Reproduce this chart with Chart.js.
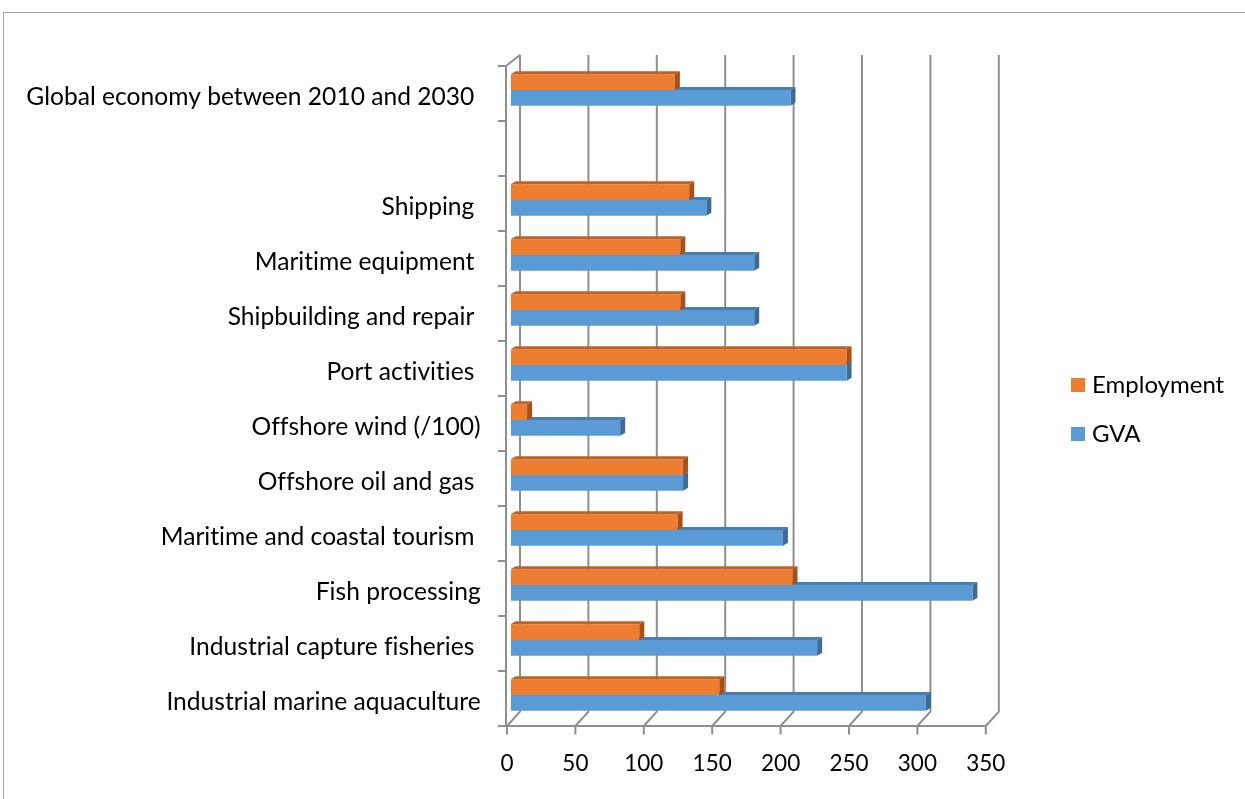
<!DOCTYPE html>
<html><head><meta charset="utf-8">
<script src="https://cdn.jsdelivr.net/npm/chart.js@4.4.1/dist/chart.umd.min.js"></script>
<style>
html,body{margin:0;padding:0;background:#fff;overflow:hidden;width:1245px;height:799px;}
#frame{position:absolute;left:3px;top:12px;width:1400px;height:1000px;border:1px solid #a6a6a6;box-sizing:border-box;}
#wrap{position:absolute;left:0;top:0;width:1245px;height:799px;}
.lg{position:absolute;font-family:Lato,sans-serif;font-size:24px;line-height:24px;color:#000;white-space:nowrap;font-variant-ligatures:none;}
.sw{position:absolute;width:14px;height:14px;}
</style></head>
<body>
<div id="frame"></div>
<div id="wrap"><canvas id="c" width="1245" height="799" style="width:1245px;height:799px"></canvas></div>
<div class="sw" style="left:1071px;top:378px;background:#ED7D31"></div>
<div class="lg" style="left:1092px;top:372px">Employment</div>
<div class="sw" style="left:1071px;top:427px;background:#5B9BD5"></div>
<div class="lg" style="left:1092px;top:421px">GVA</div>
<script>
const categories = ["Global economy between 2010 and 2030 ", "", "Shipping ", "Maritime equipment ", "Shipbuilding and repair ", "Port activities ", "Offshore wind (/100)", "Offshore oil and gas ", "Maritime and coastal tourism ", "Fish processing", "Industrial capture fisheries ", "Industrial marine aquaculture"];
const employment = [120, null, 130.5, 124, 124, 245.5, 12, 126, 122, 206, 94, 152.5];
const gva = [204.5, null, 143, 178, 178, 245.5, 80, 126, 199, 337.5, 224, 303.5];
const xTicks = [0, 50, 100, 150, 200, 250, 300, 350];
const seriesNames = ["Employment", "GVA"];

const GRID = '#8f8f8f';
function faces(ctx, el, topCol, sideCol){
  const p = el.getProps(['x','y','base','height'], true);
  const x0 = Math.min(p.x, p.base), x1 = Math.max(p.x, p.base);
  const t = p.y - p.height/2, b = p.y + p.height/2, dx = 5, dy = 3;
  ctx.fillStyle = topCol;
  ctx.beginPath(); ctx.moveTo(x0, t); ctx.lineTo(x0+dx, t-dy); ctx.lineTo(x1+dx, t-dy); ctx.lineTo(x1, t); ctx.closePath(); ctx.fill();
  ctx.fillStyle = sideCol;
  ctx.beginPath(); ctx.moveTo(x1, t); ctx.lineTo(x1+dx, t-dy); ctx.lineTo(x1+dx, b-dy); ctx.lineTo(x1, b); ctx.closePath(); ctx.fill();
}
const threeD = {
  id: 'threeD',
  beforeDraw(chart){
    try { chart.ctx.letterSpacing = '0.01px'; } catch (e) {}
  },
  beforeDatasetsDraw(chart){
    const ctx = chart.ctx, xs = chart.scales.x, a = chart.chartArea;
    const bx = v => xs.getPixelForValue(v) + 9.3;
    const fx = v => xs.getPixelForValue(v) - 3.7;
    const backTop = a.top - 7.5, backBot = a.bottom - 10.8, frontTop = a.top + 3.5, frontBot = a.bottom + 3.5;
    ctx.save();
    ctx.strokeStyle = GRID; ctx.lineWidth = 2; ctx.lineJoin = 'miter';
    xTicks.forEach(v => {
      ctx.beginPath();
      ctx.moveTo(bx(v), backTop); ctx.lineTo(bx(v), backBot); ctx.lineTo(fx(v), frontBot); ctx.lineTo(fx(v), frontBot + 8.5);
      ctx.stroke();
    });
    ctx.beginPath(); ctx.moveTo(fx(0) - 8, frontBot); ctx.lineTo(fx(xTicks[xTicks.length-1]), frontBot); ctx.stroke();
    ctx.beginPath(); ctx.moveTo(bx(0), backTop); ctx.lineTo(fx(0) - 1, frontTop); ctx.lineTo(fx(0) - 1, frontBot); ctx.stroke();
    const n = categories.length, step = (a.bottom - a.top) / n;
    for (let k = 0; k <= n; k++) {
      const y = frontTop + k * step;
      ctx.beginPath(); ctx.moveTo(fx(0) - 9, y); ctx.lineTo(fx(0) - 1, y); ctx.stroke();
    }
    chart.getDatasetMeta(1).data.forEach((el, i) => { if (gva[i] != null) faces(ctx, el, '#4A7EAE', '#3E6A93'); });
    ctx.restore();
  },
  afterDatasetsDraw(chart){
    const ctx = chart.ctx;
    ctx.save();
    chart.getDatasetMeta(0).data.forEach((el, i) => { if (employment[i] != null) faces(ctx, el, '#BF6228', '#A4511C'); });
    ctx.restore();
  }
};

new Chart(document.getElementById('c'), {
  type: 'bar',
  data: {
    labels: categories,
    datasets: [
      { label: seriesNames[0], data: employment, backgroundColor: '#ED7D31', borderWidth: 0 },
      { label: seriesNames[1], data: gva, backgroundColor: '#5B9BD5', borderWidth: 0 }
    ]
  },
  options: {
    indexAxis: 'y',
    responsive: false,
    animation: false,
    events: [],
    layout: { padding: { left: 0, top: 62.5, right: 1245 - 989.5, bottom: 799 - 722.5 - 50 } },
    datasets: { bar: { categoryPercentage: 0.571, barPercentage: 1.0 } },
    plugins: { legend: { display: false }, tooltip: { enabled: false } },
    scales: {
      x: {
        type: 'linear', min: 0, max: 350,
        afterBuildTicks: s => { s.ticks = xTicks.map(v => ({ value: v })); },
        afterFit: s => { s.height = 50; },
        grid: { display: false, drawTicks: false },
        border: { display: false },
        ticks: { padding: 28, labelOffset: -3.7, color: '#000', font: { family: 'Lato', size: 22.5 }, maxRotation: 0, autoSkip: false }
      },
      y: {
        afterFit: s => { s.width = 510.7; },
        grid: { display: false, drawTicks: false },
        border: { display: false },
        ticks: { padding: 30, labelOffset: 7, color: '#000', font: { family: 'Lato', size: 24.6 }, autoSkip: false }
      }
    }
  },
  plugins: [threeD]
});
</script>
</body></html>
